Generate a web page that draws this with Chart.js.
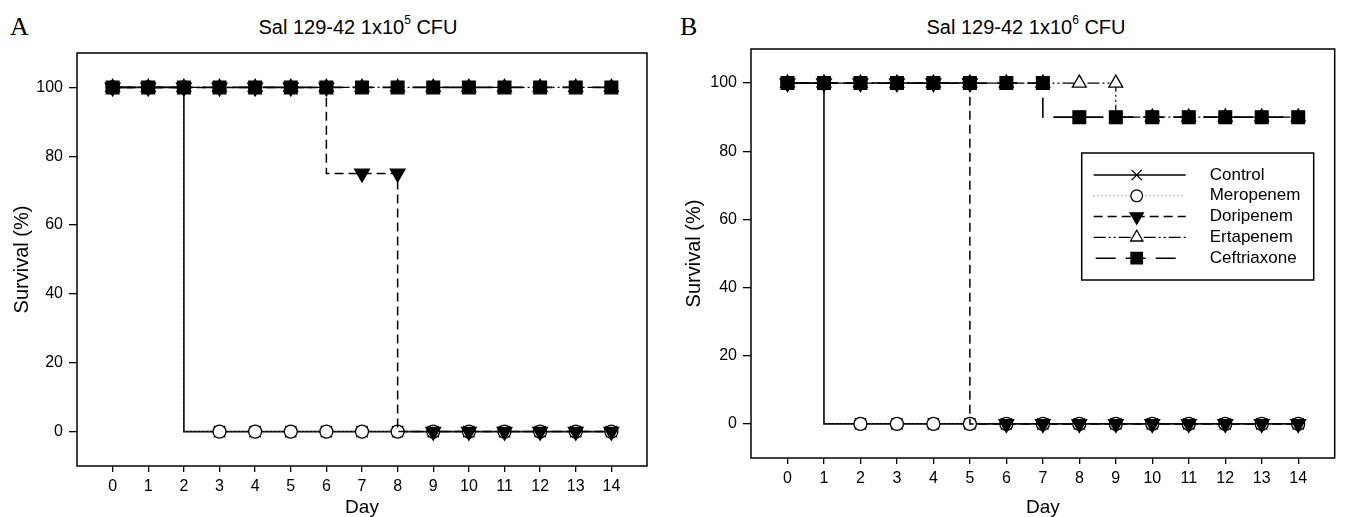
<!DOCTYPE html>
<html>
<head>
<meta charset="utf-8">
<script src="https://cdn.jsdelivr.net/npm/chart.js@4.4.0/dist/chart.umd.min.js"></script>
<style>
  body { margin:0; background:#fff; width:1345px; height:517px; position:relative; overflow:hidden;
         font-family:'Liberation Sans', Arial, sans-serif; color:#000; }
  canvas { position:absolute; top:0; }
  .letter { position:absolute; top:12px; font-family:'Liberation Serif','Times New Roman',serif; font-size:26px; }
  .title { position:absolute; top:15px; font-size:20px; white-space:nowrap; transform:translateX(-50%); }
  .title sup { font-size:12px; position:relative; top:-2px; }
</style>
</head>
<body>
<div class="letter" style="left:10px">A</div>
<div class="title" style="left:358px">Sal 129-42 1x10<sup>5</sup> CFU</div>
<div class="letter" style="left:680px">B</div>
<div class="title" style="left:1026px">Sal 129-42 1x10<sup>6</sup> CFU</div>
<canvas id="chartA" width="672" height="517" style="left:0"></canvas>
<canvas id="chartB" width="673" height="517" style="left:672px"></canvas>
<script>
// 생존 곡선 A, B (Kaplan-Meier 계단 그래프)

var days = [0, 1, 2, 3, 4, 5, 6, 7, 8, 9, 10, 11, 12, 13, 14];
var yTicks = [0, 20, 40, 60, 80, 100];
var seriesNames = ["Control", "Meropenem", "Doripenem", "Ertapenem", "Ceftriaxone"];

// A : 1x10^5 CFU
var ctrlA = [100, 100, 100, 0, 0, 0, 0, 0, 0, 0, 0, 0, 0, 0, 0];
var meroA = [100, 100, 100, 0, 0, 0, 0, 0, 0, 0, 0, 0, 0, 0, 0];
var doriA = [100, 100, 100, 100, 100, 100, 100, 75, 75, 0, 0, 0, 0, 0, 0];
var ertaA = [100, 100, 100, 100, 100, 100, 100, 100, 100, 100, 100, 100, 100, 100, 100];
var ceftA = [100, 100, 100, 100, 100, 100, 100, 100, 100, 100, 100, 100, 100, 100, 100];

// B : 1x10^6 CFU
var ctrlB = [100, 100, 0, 0, 0, 0, 0, 0, 0, 0, 0, 0, 0, 0, 0];
var meroB = [100, 100, 0, 0, 0, 0, 0, 0, 0, 0, 0, 0, 0, 0, 0];
var doriB = [100, 100, 100, 100, 100, 100, 0, 0, 0, 0, 0, 0, 0, 0, 0];
var ertaB = [100, 100, 100, 100, 100, 100, 100, 100, 100, 100, 90, 90, 90, 90, 90];
var ceftB = [100, 100, 100, 100, 100, 100, 100, 100, 90, 90, 90, 90, 90, 90, 90];

var fam = "'Liberation Sans', Arial, sans-serif";

// 선 모양, 마커
var styles = [
  { dash: [], color: "#000", width: 1.6, point: "crossRot", radius: 8, rot: 0, fill: "#000" },
  { dash: [1, 3], color: "#555", width: 1, point: "circle", radius: 6.5, rot: 0, fill: "#fff" },
  { dash: [9, 5], color: "#000", width: 1.5, point: "triangle", radius: 8.5, rot: 180, fill: "#000" },
  { dash: [12, 3, 2, 3, 2, 3], color: "#000", width: 1.2, point: "triangle", radius: 8, rot: 0, fill: "#fff" },
  { dash: [20, 10], color: "#000", width: 1.6, point: "rect", radius: 9, rot: 0, fill: "#000" }
];

function makeSets(rows){
  return rows.map(function(vals, i){
    var s = styles[i];
    return {
      label: seriesNames[i],
      data: days.map(function(d, j){ return { x: d, y: vals[j] }; }),
      stepped: "after",
      borderColor: s.color,
      borderWidth: s.width,
      borderDash: s.dash,
      pointStyle: s.point,
      pointRadius: s.radius,
      pointRotation: s.rot,
      pointBackgroundColor: s.fill,
      pointBorderColor: "#000",
      pointBorderWidth: 1.3,
      fill: false,
      order: rows.length - i
    };
  });
}

// 네모 테두리
var boxPlugin = {
  id: "box",
  afterDraw: function(chart){
    var a = chart.chartArea, ctx = chart.ctx;
    ctx.save();
    ctx.strokeStyle = "#000";
    ctx.lineWidth = 1.5;
    ctx.strokeRect(a.left, a.top, a.right - a.left, a.bottom - a.top);
    ctx.restore();
  }
};

// 범례 (B 에만)
var legendPlugin = {
  id: "boxLegend",
  afterDraw: function(chart, args, opts){
    if (!opts.show) return;
    var ctx = chart.ctx, a = chart.chartArea;
    var w = 232, h = 127;
    var x0 = a.right - 21 - w, y0 = a.top + 104;
    ctx.save();
    ctx.fillStyle = "#fff";
    ctx.fillRect(x0, y0, w, h);
    ctx.lineWidth = 1.5;
    ctx.strokeStyle = "#000";
    ctx.strokeRect(x0, y0, w, h);
    chart.data.datasets.forEach(function(ds, i){
      var y = y0 + 22 + i * 20.8;
      ctx.setLineDash(ds.borderDash);
      ctx.lineDashOffset = i == 4 ? -2 : 0;
      ctx.lineWidth = ds.borderWidth;
      ctx.strokeStyle = ds.borderColor;
      ctx.beginPath();
      ctx.moveTo(x0 + 12, y);
      ctx.lineTo(x0 + 104, y);
      ctx.stroke();
      ctx.setLineDash([]);
      ctx.strokeStyle = "#000";
      ctx.fillStyle = ds.pointBackgroundColor;
      ctx.lineWidth = ds.pointBorderWidth;
      Chart.helpers.drawPoint(ctx, {
        pointStyle: ds.pointStyle, radius: ds.pointRadius * 0.9,
        rotation: ds.pointRotation, borderWidth: ds.pointBorderWidth
      }, x0 + 55, y);
      ctx.fillStyle = "#000";
      ctx.font = "17px " + fam;
      ctx.textBaseline = "middle";
      ctx.textAlign = "left";
      ctx.fillText(ds.label, x0 + 128, y);
    });
    ctx.restore();
  }
};

function makeScales(yWidth, xHeight, yTitlePad){
  return {
    x: {
      type: "linear", min: -1, max: 15,
      afterBuildTicks: function(s){ s.ticks = days.map(function(d){ return { value: d }; }); },
      afterFit: function(s){ s.height = xHeight; },
      grid: { drawOnChartArea: false, drawTicks: true, tickLength: 6, color: "#000", lineWidth: 1.3 },
      border: { display: false },
      ticks: { color: "#000", font: { size: 16, family: fam }, padding: 5, maxRotation: 0, autoSkip: false },
      title: { display: true, text: "Day", color: "#000", font: { size: 19, family: fam, lineHeight: 1 }, padding: { top: 0, bottom: 0 } }
    },
    y: {
      type: "linear", min: -10, max: 110,
      afterBuildTicks: function(s){ s.ticks = yTicks.map(function(v){ return { value: v }; }); },
      afterFit: function(s){ s.width = yWidth; },
      grid: { drawOnChartArea: false, drawTicks: true, tickLength: 8, color: "#000", lineWidth: 1.3 },
      border: { display: false },
      ticks: { color: "#000", font: { size: 16, family: fam }, padding: 6 },
      title: { display: true, text: "Survival (%)", color: "#000", font: { size: 20, family: fam, lineHeight: 1.2 }, padding: { top: yTitlePad, bottom: 0 } }
    }
  };
}

function makeChart(id, rows, pad, yWidth, xHeight, yTitlePad, showLegend){
  var ctx = document.getElementById(id);
  return new Chart(ctx, {
    type: "line",
    data: { datasets: makeSets(rows) },
    options: {
      responsive: false,
      animation: false,
      devicePixelRatio: 1,
      layout: { padding: pad },
      scales: makeScales(yWidth, xHeight, yTitlePad),
      plugins: {
        legend: { display: false },
        tooltip: { enabled: false },
        boxLegend: { show: showLegend }
      }
    },
    plugins: [boxPlugin, legendPlugin]
  });
}

var chartA = makeChart("chartA", [ctrlA, meroA, doriA, ertaA, ceftA],
  { left: 0, top: 53, right: 25, bottom: 0 }, 77, 51, 10, false);
var chartB = makeChart("chartB", [ctrlB, meroB, doriB, ertaB, ceftB],
  { left: 0, top: 49, right: 8, bottom: 0 }, 79, 59, 10, true);
</script>
</body>
</html>
